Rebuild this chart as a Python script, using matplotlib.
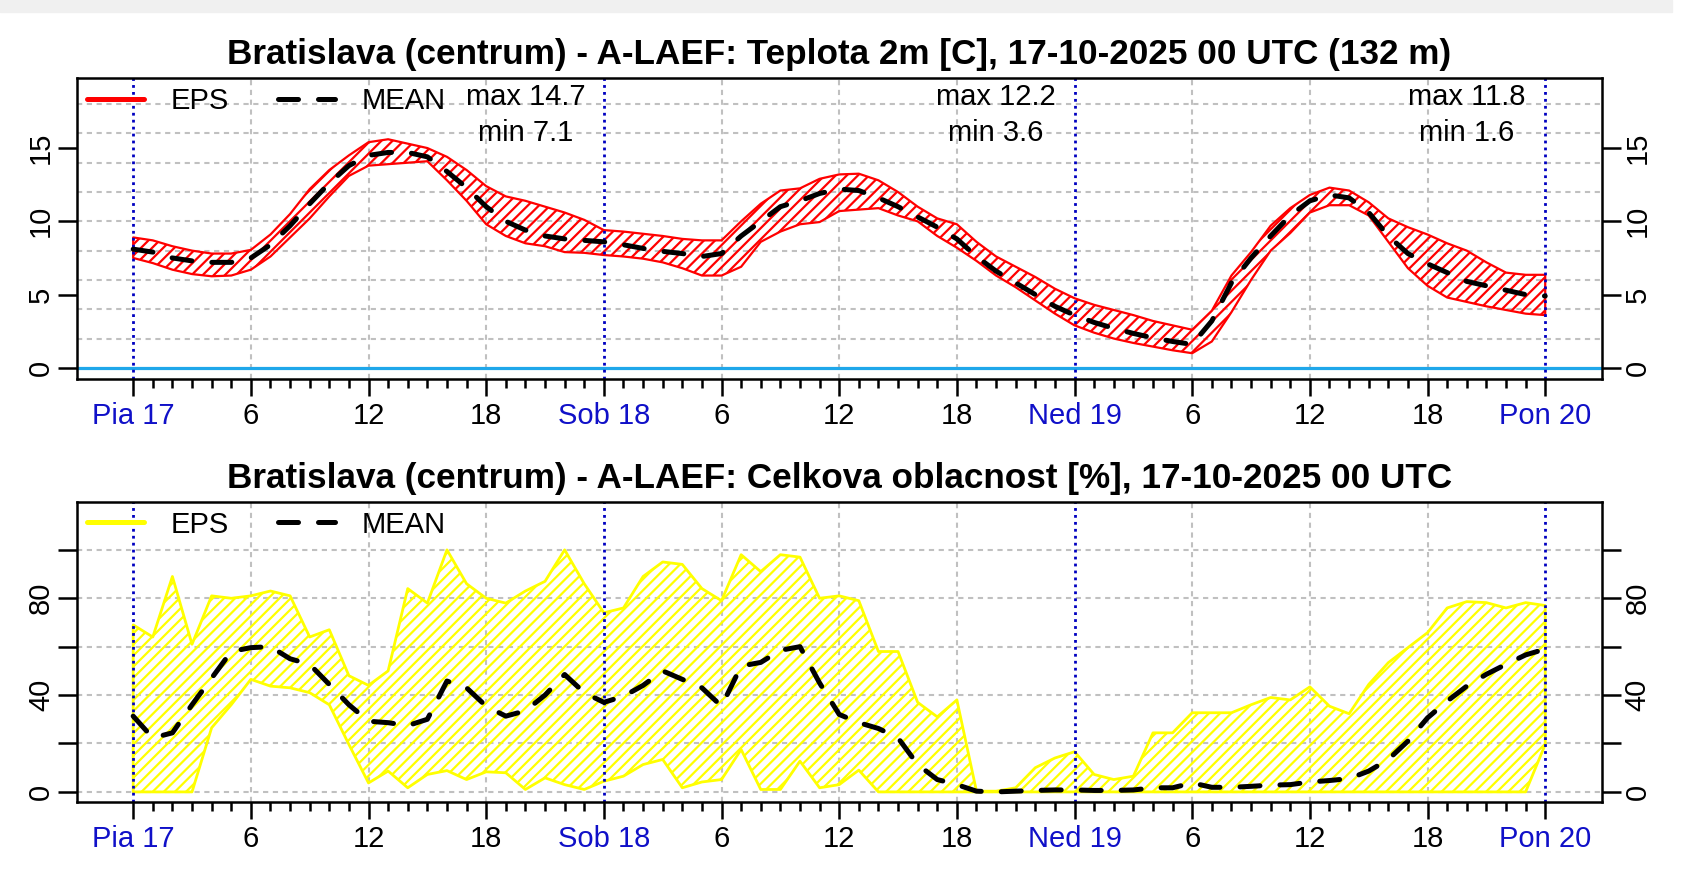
import matplotlib
matplotlib.use('Agg')
import matplotlib.pyplot as plt
import numpy as np
from matplotlib.lines import Line2D
from matplotlib.patches import Rectangle
from matplotlib.ticker import FixedLocator

plt.rcParams['font.family'] = ['Liberation Sans', 'DejaVu Sans']
plt.rcParams['hatch.linewidth'] = 1.6

# ---------------- data ----------------
hours = list(range(73))

temp_max = [8.9, 8.7, 8.3, 8.0, 7.8, 7.8, 8.05, 9.1, 10.5, 12.2, 13.5, 14.5, 15.4,
            15.6, 15.3, 15.0, 14.4, 13.5, 12.4, 11.7, 11.4, 11.0, 10.6, 10.1, 9.4,
            9.3, 9.15, 9.0, 8.8, 8.7, 8.7, 10.0, 11.2, 12.1, 12.25, 12.9, 13.2,
            13.25, 12.8, 12.0, 11.0, 10.2, 9.8, 8.6, 7.6, 6.9, 6.2, 5.4, 4.75,
            4.3, 3.95, 3.6, 3.2, 2.9, 2.6, 3.9, 6.3, 7.9, 9.7, 10.9, 11.8,
            12.3, 12.1, 11.3, 10.2, 9.6, 9.1, 8.5, 8.0, 7.2, 6.5, 6.35, 6.35]
temp_min = [7.5, 7.15, 6.7, 6.4, 6.25, 6.3, 6.7, 7.6, 8.9, 10.2, 11.7, 13.1, 13.8,
            13.9, 14.0, 14.1, 12.8, 11.4, 9.8, 9.0, 8.5, 8.3, 7.9, 7.85, 7.7,
            7.6, 7.45, 7.2, 6.8, 6.3, 6.3, 6.9, 8.6, 9.3, 9.8, 9.95, 10.7,
            10.8, 10.9, 10.4, 10.0, 9.0, 8.2, 7.3, 6.3, 5.5, 4.6, 3.7, 2.9,
            2.4, 2.0, 1.7, 1.45, 1.2, 1.0, 1.8, 3.8, 6.0, 8.0, 9.2, 10.6,
            11.1, 11.1, 10.4, 8.6, 6.8, 5.6, 4.8, 4.5, 4.2, 3.95, 3.7, 3.6]
temp_mean = [8.1, 7.9, 7.5, 7.3, 7.2, 7.2, 7.5, 8.4, 9.7, 11.2, 12.6, 13.8, 14.5,
             14.7, 14.7, 14.4, 13.4, 12.3, 11.0, 10.0, 9.4, 9.0, 8.8, 8.7, 8.6,
             8.4, 8.15, 7.95, 7.8, 7.6, 7.8, 9.0, 10.0, 11.0, 11.4, 11.9, 12.2,
             12.1, 11.6, 11.0, 10.3, 9.6, 8.8, 7.6, 6.6, 5.8, 5.0, 4.2, 3.6,
             3.1, 2.7, 2.35, 2.05, 1.8, 1.6, 3.2, 5.8, 7.5, 9.0, 10.4, 11.4,
             11.8, 11.6, 10.6, 9.0, 7.8, 7.1, 6.5, 5.9, 5.6, 5.3, 5.0, 4.9]

cloud_max = [69, 64, 89, 61, 81, 80, 81, 83, 81, 64, 67, 48, 44,
             50, 84, 78, 100, 86, 80, 78, 83, 87, 100, 86, 74,
             76, 89, 95, 94, 84, 79, 98, 91, 98, 97, 80, 81,
             79, 58, 58, 37, 31, 38, 0.3, 0.3, 1.7, 10, 14, 16.6,
             7.2, 5.1, 6.5, 24.4, 24.4, 32.7, 32.7, 32.7, 36, 39, 38, 43.4,
             35.4, 32.3, 44.4, 53.4, 59.6, 65.8, 76, 78.6, 78.2, 76, 78.2, 77]
cloud_min = [0, 0, 0, 0, 26.5, 36, 46.5, 43.7, 43, 41, 36, 19.6, 3.7,
             8.6, 1.7, 7.2, 8.8, 5.1, 8.3, 7.9, 1.0, 5.8, 3.0, 1.0, 4.4,
             6.5, 11.3, 13.4, 1.7, 4.1, 5.1, 17.5, 1.0, 1.0, 12.7, 1.7, 3,
             9, 0, 0, 0, 0, 0, 0, 0, 0, 0, 0, 0,
             0, 0, 0, 0, 0, 0, 0, 0, 0, 0, 0, 0,
             0, 0, 0, 0, 0, 0, 0, 0, 0, 0, 0, 19.6]
cloud_mean = [31.3, 22.3, 24.4, 36, 47, 58, 59.6, 60, 55, 52.7, 44.4, 36, 29.2,
              28.6, 27.4, 30, 45.8, 43, 35.4, 31.3, 33.5, 40, 48.5, 41, 37,
              39.5, 44, 50, 46.5, 43, 35.4, 52, 53.5, 58.5, 60, 45, 32,
              28.6, 26.2, 22.3, 11.3, 5.1, 3.0, 0.3, 0, 0.3, 0.6, 0.8, 0.8,
              0.6, 0.6, 0.8, 1.7, 1.7, 3.7, 1.9, 1.9, 2.3, 2.8, 3.0, 4.1,
              4.7, 5.5, 8.6, 13.4, 21, 30.6, 37.5, 43.7, 48.6, 52.7, 56.6, 59]

day_labels = ['Pia 17', 'Sob 18', 'Ned 19', 'Pon 20']
day_max = ['14.7', '12.2', '11.8']
day_min = ['7.1', '3.6', '1.6']
title_temp = 'Bratislava (centrum) - A-LAEF: Teplota 2m [C], 17-10-2025 00 UTC (132 m)'
title_cloud = 'Bratislava (centrum) - A-LAEF: Celkova oblacnost [%], 17-10-2025 00 UTC'
legend_labels = ['EPS', 'MEAN']

# ---------------- style ----------------
W, H = 1682, 875
FS = 21
TFS = 25.3
GRID = '#c0c0c0'
DAYBLUE = '#0000c0'
LW_AX = 1.8

fig = plt.figure(figsize=(W / 100, H / 100), dpi=100)
fig.patches.append(Rectangle((0, 1 - 12 / H), 1672 / W, 12 / H,
                             transform=fig.transFigure, color='#f0f0f0', zorder=0))

ax_left, ax_right = 76.7, 1601.7


def make_axes(top, bottom):
    return fig.add_axes([ax_left / W, 1 - bottom / H, (ax_right - ax_left) / W, (bottom - top) / H])


ax1 = make_axes(78.3, 379.0)
ax2 = make_axes(501.7, 801.7)


def setup(ax, ylim, yticks, ylabels, ygrid, title, band_color):
    ax.set_xlim(-2.88, 74.88)
    ax.set_ylim(*ylim)
    major = list(range(0, 73, 6))
    labels = [day_labels[h // 24] if h % 24 == 0 else str(h % 24) for h in major]
    ax.set_xticks(major)
    ax.set_xticklabels(labels, fontsize=FS)
    for h, lbl in zip(major, ax.get_xticklabels()):
        if h % 24 == 0:
            lbl.set_color('#1010c8')
    ax.xaxis.set_minor_locator(FixedLocator([h for h in hours if h % 6]))
    ax.tick_params(axis='x', which='major', length=12.2, width=LW_AX, pad=4.5)
    ax.tick_params(axis='x', which='minor', length=6.5, width=LW_AX)
    ax.set_yticks(yticks)
    ax.set_yticklabels(ylabels, fontsize=FS)
    ax.tick_params(axis='y', which='major', length=13.7, width=LW_AX,
                   left=True, right=True, labelleft=True, labelright=True,
                   labelrotation=90, pad=2)
    for t in ax.yaxis.get_major_ticks():
        t.label1.set_va('center')
        t.label2.set_va('center')
    for s in ax.spines.values():
        s.set_linewidth(LW_AX)
        s.set_zorder(10)
    for y in ygrid:
        ax.axhline(y, color=GRID, lw=1.5, ls=(0, (2.5, 2.2)), zorder=1)
    for h in range(6, 72, 6):
        if h % 24:
            ax.axvline(h, color=GRID, lw=1.5, ls=(0, (2.5, 2.2)), zorder=1)
    for h in range(0, 73, 24):
        ax.axvline(h, color=DAYBLUE, lw=2.0, ls=(0, (1.0, 1.5)), zorder=4)
    ax.text(0.5, 1 + 23.5 / (ax.bbox.height), title, transform=ax.transAxes,
            ha='center', va='center', fontsize=TFS, fontweight='bold')
    handles = [Line2D([], [], color=band_color, lw=3.6, solid_capstyle='round'),
               Line2D([], [], color='black', lw=3.6, ls=(0, (4, 4)), dash_capstyle='round')]
    ax.legend(handles, legend_labels, loc='upper left', bbox_to_anchor=(0.0068, 0.970),
              ncol=2, frameon=False, fontsize=FS, borderpad=0, borderaxespad=0,
              handlelength=1.95, handletextpad=0.9, columnspacing=1.7)


# ---- top panel: temperature ----
setup(ax1, (-0.76, 19.76), [0, 5, 10, 15], ['0', '5', '10', '15'],
      list(range(2, 19, 2)), title_temp, 'red')
ax1.axhline(0, color='#1fa7ea', lw=2.3, zorder=2)
ax1.fill_between(hours, temp_min, temp_max, facecolor='none', edgecolor='red',
                 hatch='///', lw=1.6, zorder=3)
ax1.plot(hours, temp_mean, color='black', lw=3.6, ls=(0, (4, 4)),
         dash_capstyle='round', zorder=5)
for i in range(3):
    ax1.text(20 + 24 * i, 18.5, 'max ' + day_max[i], ha='center', va='center', fontsize=FS, zorder=6)
    ax1.text(20 + 24 * i, 16.0, 'min ' + day_min[i], ha='center', va='center', fontsize=FS, zorder=6)

# ---- bottom panel: cloudiness ----
setup(ax2, (-4.05, 119.9), [0, 20, 40, 60, 80, 100], ['0', '', '40', '', '80', ''],
      list(range(0, 101, 20)), title_cloud, '#ffff00')
ax2.fill_between(hours, cloud_min, cloud_max, facecolor='none', edgecolor='#ffff00',
                 hatch='///', lw=2.0, zorder=3)
ax2.plot(hours, cloud_mean, color='black', lw=3.6, ls=(0, (4, 4)),
         dash_capstyle='round', zorder=5)

fig.savefig('out.png', dpi=100)
